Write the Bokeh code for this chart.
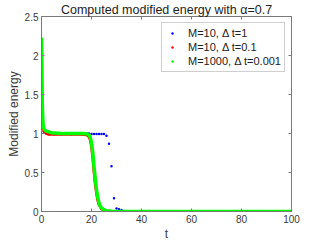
from bokeh.plotting import figure
from bokeh.models import Range1d, FixedTicker, LinearAxis, Legend, LegendItem, Title
from bokeh.embed import file_html
from bokeh.resources import INLINE

# ---- data ----
title_text = "Computed modified energy with \u03b1=0.7"
x_label = "t"
y_label = "Modified energy"
x_ticks = [0, 20, 40, 60, 80, 100]
x_tick_labels = ["0", "20", "40", "60", "80", "100"]
y_ticks = [0, 0.5, 1, 1.5, 2, 2.5]
y_tick_labels = ["0", "0.5", "1", "1.5", "2", "2.5"]

# M=10, dt=1
t_coarse = list(range(0, 101))
e_coarse = ([2.2, 1.02] + [1.0] * 18 + [0.995] * 6 +
            [0.97, 0.87, 0.58, 0.17, 0.04, 0.03, 0.02, 0.008] + [0.0] * 67)

# M=10, dt=0.1
t_mid = [0, 0.1, 0.2, 0.3, 0.5, 1, 2, 3, 5, 8, 12, 16, 18, 19, 19.5, 20, 20.5,
         21, 21.5, 22, 22.5, 23, 24, 25, 26, 28, 30, 40, 60, 80, 100]
e_mid = [2.2, 1.7, 1.45, 1.25, 1.1, 1.03, 1.0, 0.99, 0.99, 0.99, 0.99, 0.99, 0.985,
         0.96, 0.92, 0.84, 0.70, 0.52, 0.36, 0.24, 0.15, 0.09, 0.035, 0.015, 0.007,
         0.002, 0.0, 0.0, 0.0, 0.0, 0.0]

# M=1000, dt=0.001
t_fine = [0, 0.1, 0.2, 0.3, 0.5, 0.7, 1, 1.5, 2, 3, 4, 5, 8, 12, 16, 18, 19, 19.5,
          20, 20.5, 21, 21.5, 22, 22.5, 23, 23.5, 24, 25, 26, 27, 28, 30, 35, 40,
          60, 80, 100]
e_fine = [2.22, 1.9, 1.6, 1.4, 1.2, 1.1, 1.06, 1.04, 1.03, 1.02, 1.01, 1.005, 1.0,
          1.0, 1.0, 0.998, 0.98, 0.95, 0.88, 0.76, 0.58, 0.42, 0.28, 0.18, 0.11,
          0.07, 0.045, 0.02, 0.01, 0.005, 0.002, 0.0, 0.0, 0.0, 0.0, 0.0, 0.0]

labels = ["M=10, \u0394 t=1", "M=10, \u0394 t=0.1", "M=1000, \u0394 t=0.001"]
colors = ["#0000ff", "#ff0000", "#00ff00"]

FONT = "Liberation Sans"
AX = "#7a7a7a"
TXT = "#3a3a3a"

p = figure(frame_width=250, frame_height=195, output_backend="svg",
           toolbar_location=None,
           x_range=Range1d(0, 100), y_range=Range1d(0, 2.5),
           min_border_left=41, min_border_right=30, min_border_top=0,
           min_border_bottom=28, background_fill_color="white",
           border_fill_color="white")
p.grid.visible = False
p.outline_line_color = AX
p.outline_line_width = 1


def style_axis(ax, ticks, tick_labels, show):
    ax.ticker = FixedTicker(ticks=ticks)
    ax.major_tick_in = 3
    ax.major_tick_out = 0
    ax.minor_tick_line_color = None
    ax.axis_line_color = AX
    ax.major_tick_line_color = AX
    ax.major_label_text_font = FONT
    ax.major_label_text_color = TXT
    ax.major_label_text_font_size = "10px"
    if show:
        ax.major_label_overrides = {t: l for t, l in zip(ticks, tick_labels)}
        ax.major_label_standoff = 3
    else:
        ax.major_label_overrides = {t: "" for t in ticks}
        ax.major_label_standoff = 0


style_axis(p.xaxis[0], x_ticks, x_tick_labels, True)
style_axis(p.yaxis[0], y_ticks, y_tick_labels, True)
p.xaxis.axis_label = x_label
p.yaxis.axis_label = y_label
for ax in (p.xaxis[0], p.yaxis[0]):
    ax.axis_label_text_font = FONT
    ax.axis_label_text_font_size = "12px"
    ax.axis_label_text_font_style = "normal"
    ax.axis_label_text_color = TXT
    ax.axis_label_standoff = 1

top_ax = LinearAxis()
right_ax = LinearAxis()
style_axis(top_ax, x_ticks, x_tick_labels, False)
style_axis(right_ax, y_ticks, y_tick_labels, False)
p.add_layout(top_ax, "above")
p.add_layout(right_ax, "right")

title = Title(text=title_text, align="center", text_font=FONT,
              text_font_size="12.5px", text_font_style="normal",
              text_color="#222222", standoff=0, offset=0)
p.add_layout(title, "above")

# data marks
r_blue = p.scatter(t_coarse, e_coarse, size=2.5, color=colors[0], line_width=0)
r_red_dot = p.scatter(t_mid, e_mid, size=2.5, color=colors[1], line_width=0)
p.line(t_mid, e_mid, line_width=3, color=colors[1])
r_green_dot = p.scatter(t_fine, e_fine, size=2.5, color=colors[2], line_width=0)
p.line(t_fine, e_fine, line_width=3.5, color=colors[2])

legend = Legend(items=[LegendItem(label=labels[0], renderers=[r_blue]),
                       LegendItem(label=labels[1], renderers=[r_red_dot]),
                       LegendItem(label=labels[2], renderers=[r_green_dot])],
                location="top_right")
legend.label_text_font = FONT
legend.label_text_font_size = "11px"
legend.label_text_color = "#222222"
legend.glyph_width = 14
legend.glyph_height = 6
legend.label_height = 14
legend.label_standoff = 9
legend.padding = 3
legend.spacing = 0
legend.margin = 6
legend.border_line_color = "#a0a0a0"
legend.border_line_width = 1
legend.background_fill_alpha = 1
p.add_layout(legend)

open("out.html", "w").write(file_html(p, INLINE))
